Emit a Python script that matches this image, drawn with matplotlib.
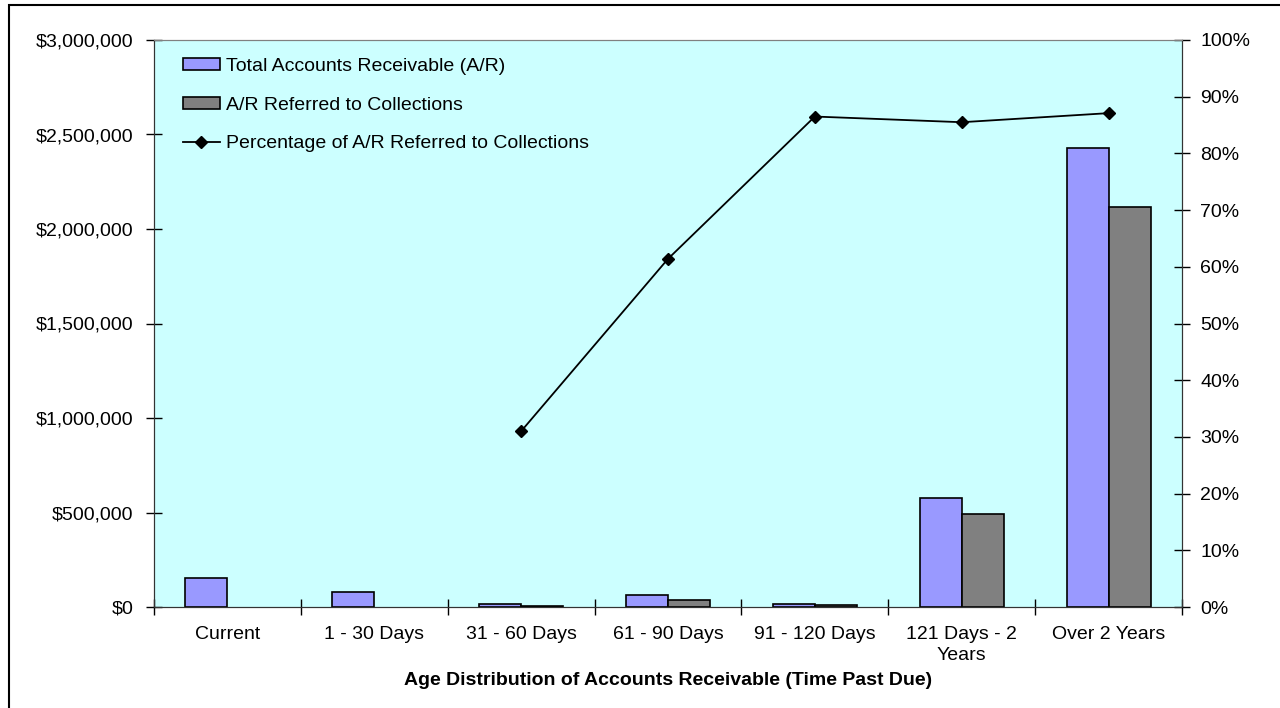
import numpy as np
import matplotlib.pyplot as plt
from matplotlib.patches import Rectangle
from matplotlib.ticker import FuncFormatter

plt.rcParams['font.family'] = ['Liberation Sans', 'DejaVu Sans']

# age buckets and amounts (no referrals for the first two buckets)
categories = ['Current', '1 - 30 Days', '31 - 60 Days', '61 - 90 Days',
              '91 - 120 Days', '121 Days - 2\nYears', 'Over 2 Years']
total_ar = [153000, 79000, 18000, 62000, 14000, 575000, 2430000]
referred_ar = [np.nan, np.nan, 5600, 38000, 12000, 492000, 2116000]
pct_referred = [np.nan, np.nan, 0.31, 0.614, 0.865, 0.855, 0.871]

purple = '#9999FF'
grey = '#808080'
bg = '#CCFFFF'
fs = 14

fig = plt.figure(figsize=(12.8, 7.08), dpi=100)
ax = fig.add_axes([154 / 1280, 1 - 607 / 708, 1028 / 1280, 567 / 708])
ax.set_facecolor(bg)

x = np.arange(len(categories))
w = 0.286
b1 = ax.bar(x - w / 2, total_ar, w, color=purple, edgecolor='black', linewidth=1.2,
            label='Total Accounts Receivable (A/R)', zorder=2)
b2 = ax.bar(x + w / 2, referred_ar, w, color=grey, edgecolor='black', linewidth=1.2,
            label='A/R Referred to Collections', zorder=2)

ax.set_xlim(-0.5, len(categories) - 0.5)
ax.set_ylim(0, 3000000)
ax.set_yticks(np.arange(0, 3000001, 500000))
ax.yaxis.set_major_formatter(FuncFormatter(lambda v, p: '${:,.0f}'.format(v)))

# boundary ticks between buckets, labels centred under each bucket
ax.set_xticks(np.arange(-0.5, len(categories), 1))
ax.set_xticklabels([])
ax.set_xticks(x, minor=True)
ax.set_xticklabels(categories, minor=True, fontsize=fs, linespacing=1.25)
ax.tick_params(axis='x', which='minor', length=0, pad=14)
ax.tick_params(axis='x', which='major', direction='inout', length=11, width=1)
ax.tick_params(axis='y', direction='inout', length=12, width=1, pad=9, labelsize=fs)

ax.set_xlabel('Age Distribution of Accounts Receivable (Time Past Due)',
              fontsize=fs, fontweight='bold', labelpad=6)

ax2 = ax.twinx()
ax2.set_ylim(0, 1)
ax2.set_yticks(np.arange(0, 1.01, 0.1))
ax2.yaxis.set_major_formatter(FuncFormatter(lambda v, p: '{:.0%}'.format(v)))
ax2.tick_params(axis='y', direction='inout', length=12, width=1, pad=7, labelsize=fs)
ln, = ax2.plot(x, pct_referred, color='black', linewidth=1.3, marker='D',
               markersize=6.5, label='Percentage of A/R Referred to Collections')

for a in (ax, ax2):
    a.spines['top'].set_color('#808080')
    a.spines['left'].set_color('#333333')
    a.spines['right'].set_color('#333333')
    a.spines['bottom'].set_color('#333333')

leg = ax.legend(handles=[b1, b2, ln], loc='upper left', bbox_to_anchor=(0.028, 0.968),
                frameon=False, fontsize=fs, handlelength=1.9, handleheight=0.55,
                handletextpad=0.3, labelspacing=1.1, borderpad=0, borderaxespad=0)
ax.set_zorder(ax2.get_zorder() - 1)
ax2.patch.set_visible(False)
# keep the legend above the line axes
leg.remove()
ax2.add_artist(leg)

# chart frame
fig.add_artist(Rectangle((9 / 1280, -0.05), 1.1, 1 - 5 / 708 + 0.05,
                         transform=fig.transFigure, fill=False,
                         edgecolor='black', linewidth=1.5))

fig.savefig('out.png', dpi=100)
